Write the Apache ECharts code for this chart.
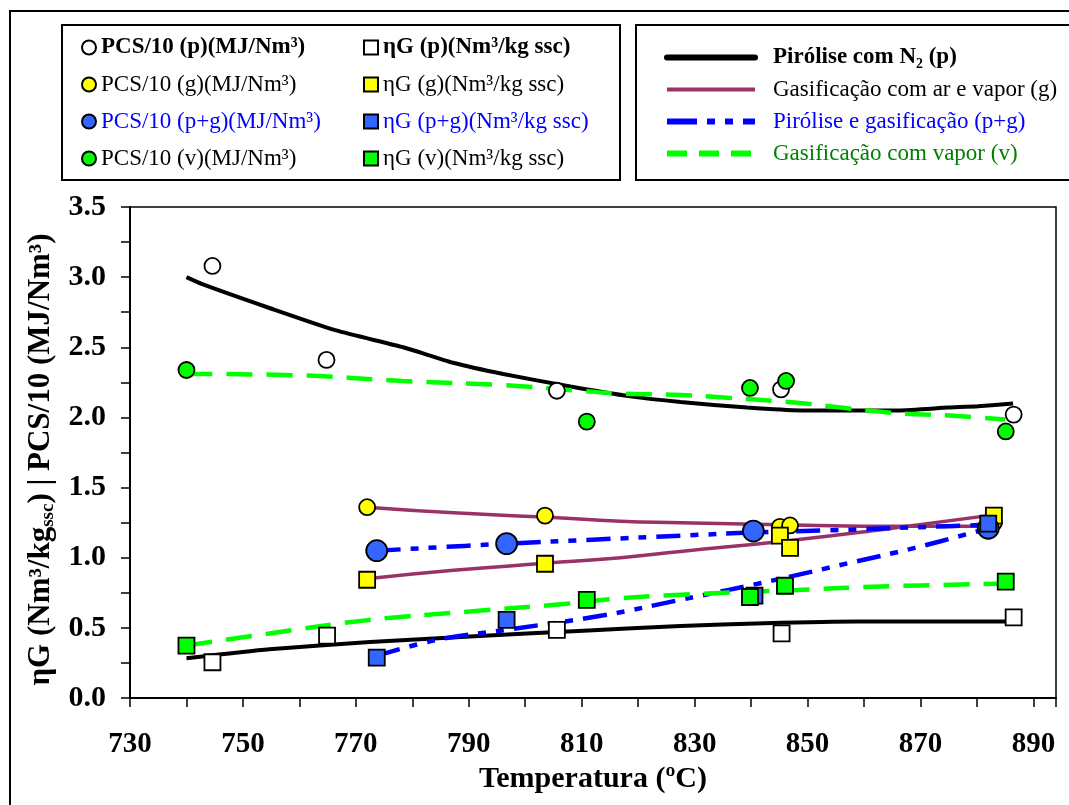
<!DOCTYPE html>
<html>
<head>
<meta charset="utf-8">
<script src="https://cdn.jsdelivr.net/npm/echarts@6/dist/echarts.min.js"></script>
<style>
html,body{margin:0;padding:0;background:#fff;}
#chart{width:1069px;height:805px;}
</style>
</head>
<body>
<div id="chart"></div>
<script>
// ---------- data ----------
const xTicks = [730, 750, 770, 790, 810, 830, 850, 870, 890];
const yTicks = [0.0, 0.5, 1.0, 1.5, 2.0, 2.5, 3.0, 3.5];

// markers
const pcsP_T = [744.6, 764.8, 805.6, 845.3, 886.5];
const pcsP_V = [3.08, 2.41, 2.19, 2.20, 2.02];
const etaP_T = [744.6, 764.9, 805.6, 845.4, 886.5];
const etaP_V = [0.255, 0.445, 0.486, 0.46, 0.575];
const pcsG_T = [772.0, 803.5, 845.1, 846.9, 883.0];
const pcsG_V = [1.36, 1.30, 1.22, 1.23, 1.25];
const etaG_T = [772.0, 803.5, 845.1, 846.9, 883.0];
const etaG_V = [0.843, 0.957, 1.157, 1.07, 1.30];
const pcsPG_T = [773.7, 796.7, 840.4, 882.0];
const pcsPG_V = [1.05, 1.10, 1.19, 1.21];
const etaPG_T = [773.7, 796.7, 840.6, 882.0];
const etaPG_V = [0.288, 0.557, 0.73, 1.243];
const pcsV_T = [740.0, 810.9, 839.8, 846.2, 885.1];
const pcsV_V = [2.338, 1.97, 2.21, 2.26, 1.90];
const etaV_T = [740.0, 810.9, 839.8, 846.0, 885.1];
const etaV_V = [0.374, 0.70, 0.72, 0.80, 0.83];

// fitted curves
const curvePcsP_T = [740, 742.8, 754.7, 766.5, 778.4, 787.2, 796.1, 808, 818.6, 827.5, 839.3, 848.8, 866, 874.9, 880.2, 886.4];
const curvePcsP_V = [3.0, 2.95, 2.78, 2.62, 2.50, 2.39, 2.31, 2.22, 2.15, 2.11, 2.07, 2.05, 2.05, 2.07, 2.08, 2.10];
const curveEtaP_T = [740, 754.7, 772.5, 790.2, 810.3, 827.5, 842.3, 858.9, 886.7];
const curveEtaP_V = [0.283, 0.347, 0.40, 0.438, 0.48, 0.514, 0.533, 0.545, 0.545];
const curvePcsG_T = [772, 787.3, 803.5, 816.9, 827.5, 845.3, 863, 882];
const curvePcsG_V = [1.36, 1.32, 1.29, 1.26, 1.25, 1.235, 1.225, 1.225];
const curveEtaG_T = [772, 787.3, 803.5, 816.9, 827.5, 845.3, 863, 882];
const curveEtaG_V = [0.85, 0.91, 0.96, 1.0, 1.045, 1.116, 1.2, 1.30];
const curvePcsPG_T = [773.7, 796.7, 812.7, 827.5, 840.4, 853.5, 874.9, 882];
const curvePcsPG_V = [1.05, 1.10, 1.13, 1.157, 1.18, 1.195, 1.225, 1.235];
const curveEtaPG_T = [773.7, 784.3, 796.7, 813.9, 827.5, 844.1, 857.1, 869, 882];
const curveEtaPG_V = [0.30, 0.414, 0.486, 0.59, 0.70, 0.84, 0.96, 1.07, 1.21];
const curvePcsV_T = [740, 760, 778.3, 796, 809.8, 816.9, 827.5, 835.8, 848.2, 855.9, 866, 876.6, 885];
const curvePcsV_V = [2.31, 2.30, 2.26, 2.23, 2.19, 2.17, 2.16, 2.14, 2.105, 2.07, 2.03, 2.01, 1.985];
const curveEtaV_T = [740, 754.7, 772.5, 790.2, 806.8, 815.1, 827.5, 848.2, 863, 884];
const curveEtaV_V = [0.374, 0.46, 0.557, 0.617, 0.67, 0.705, 0.736, 0.77, 0.795, 0.814];

// names
const N_PCS_P = 'PCS/10 (p)(MJ/Nm³)';
const N_ETA_P = 'ηG (p)(Nm³/kg ssc)';
const N_PCS_G = 'PCS/10 (g)(MJ/Nm³)';
const N_ETA_G = 'ηG (g)(Nm³/kg ssc)';
const N_PCS_PG = 'PCS/10 (p+g)(MJ/Nm³)';
const N_ETA_PG = 'ηG (p+g)(Nm³/kg ssc)';
const N_PCS_V = 'PCS/10 (v)(MJ/Nm³)';
const N_ETA_V = 'ηG (v)(Nm³/kg ssc)';
const L_P = 'Pirólise com N₂ (p)';
const L_G = 'Gasificação com ar e vapor (g)';
const L_PG = 'Pirólise e gasificação (p+g)';
const L_V = 'Gasificação com vapor (v)';

// ---------- chart ----------
const FONT = '"Liberation Serif","Times New Roman",serif';
const pair = (xs, ys) => xs.map((x, i) => [x, ys[i]]);

function scatter(name, xs, ys, symbol, size, fill) {
  return {
    name, type: 'scatter', z: 5, symbol, symbolSize: size,
    data: pair(xs, ys),
    itemStyle: { color: fill, borderColor: '#000', borderWidth: 1.8, opacity: 1 }
  };
}
function curve(name, xs, ys, color, width, type, smooth) {
  return {
    name, type: 'line', z: 3, symbol: 'none', showSymbol: false, smooth: smooth,
    data: pair(xs, ys),
    lineStyle: { color, width, type, cap: 'butt' },
    itemStyle: { color }
  };
}

const dashPG = [24, 10, 8, 10, 8, 10];
const dashPGLegend = [30, 10, 8, 10, 8, 10];
const dashV = [26, 14];
const dashVLegend = [20, 12];

const chart = echarts.init(document.getElementById('chart'), null, { renderer: 'canvas' });

const legendText = { fontFamily: FONT, fontSize: 23, color: '#000', lineHeight: 22 };
const hiddenSym = { opacity: 0 };

chart.setOption({
  animation: false,
  backgroundColor: '#fff',
  grid: { left: 130, right: 13, top: 207, bottom: 107, show: true, borderColor: '#000', borderWidth: 1.5, backgroundColor: 'transparent' },
  graphic: [
    { type: 'rect', silent: true, z: -1, shape: { x: 10, y: 11, width: 1100, height: 900 }, style: { fill: 'none', stroke: '#000', lineWidth: 2 } },
    { type: 'rect', silent: true, z: -1, shape: { x: 62, y: 25, width: 558, height: 155 }, style: { fill: 'none', stroke: '#000', lineWidth: 2 } },
    { type: 'rect', silent: true, z: -1, shape: { x: 636, y: 25, width: 500, height: 155 }, style: { fill: 'none', stroke: '#000', lineWidth: 2 } }
  ],
  legend: [
    {
      left: 76, top: 31, padding: 5, orient: 'vertical', itemGap: 14, itemWidth: 14, itemHeight: 14,
      selectedMode: false, textStyle: legendText,
      data: [
        { name: N_PCS_P, textStyle: { fontWeight: 'bold' } },
        { name: N_PCS_G },
        { name: N_PCS_PG, textStyle: { color: '#0000ff' } },
        { name: N_PCS_V }
      ]
    },
    {
      left: 358, top: 31, padding: 5, orient: 'vertical', itemGap: 14, itemWidth: 14, itemHeight: 14,
      selectedMode: false, textStyle: legendText,
      data: [
        { name: N_ETA_P, textStyle: { fontWeight: 'bold' } },
        { name: N_ETA_G },
        { name: N_ETA_PG, textStyle: { color: '#0000ff' } },
        { name: N_ETA_V }
      ]
    },
    {
      left: 659, top: 41, padding: 5, orient: 'vertical', itemGap: 9, itemWidth: 88, itemHeight: 14,
      selectedMode: false, textStyle: Object.assign({}, legendText, { padding: [0, 0, 0, 13] }),
      data: [
        { name: L_P, textStyle: { fontWeight: 'bold' }, itemStyle: hiddenSym, lineStyle: { width: 6, color: '#000', type: 'solid', cap: 'round' } },
        { name: L_G, itemStyle: hiddenSym, lineStyle: { width: 4, color: '#993366', type: 'solid' } },
        { name: L_PG, textStyle: { color: '#0000ff' }, itemStyle: hiddenSym, lineStyle: { width: 6, color: '#0000ff', type: dashPGLegend } },
        { name: L_V, textStyle: { color: '#008000' }, itemStyle: hiddenSym, lineStyle: { width: 6, color: '#00ff00', type: dashVLegend } }
      ]
    }
  ],
  xAxis: {
    type: 'value', min: 730, max: 894, interval: 20,
    name: 'Temperatura (ºC)', nameLocation: 'middle', nameGap: 64,
    nameTextStyle: { fontFamily: FONT, fontWeight: 'bold', fontSize: 30, color: '#000' },
    axisLine: { show: true, onZero: false, lineStyle: { color: '#000', width: 2 } },
    axisTick: { show: true, inside: false, length: 9, lineStyle: { color: '#000', width: 1.5 } },
    minorTick: { show: true, splitNumber: 2, length: 9, lineStyle: { color: '#000', width: 1.5 } },
    splitLine: { show: false },
    axisLabel: {
      fontFamily: FONT, fontWeight: 'bold', fontSize: 29, color: '#000', margin: 32,
      showMaxLabel: false,
      formatter: v => (xTicks.indexOf(v) >= 0 ? String(v) : '')
    }
  },
  yAxis: {
    type: 'value', min: 0, max: 3.5, interval: 0.5,
    name: 'ηG (Nm³/kg{sub|ssc}) | PCS/10 (MJ/Nm³)', nameLocation: 'middle', nameGap: 70,
    nameTextStyle: {
      fontFamily: FONT, fontWeight: 'bold', fontSize: 31, color: '#000',
      padding: [0, 14, 0, 0],
      rich: { sub: { fontFamily: FONT, fontWeight: 'bold', fontSize: 19, color: '#000', verticalAlign: 'bottom', padding: [14, 0, 0, 0] } }
    },
    axisLine: { show: true, onZero: false, lineStyle: { color: '#000', width: 2 } },
    axisTick: { show: true, inside: false, length: 9, lineStyle: { color: '#000', width: 1.5 } },
    minorTick: { show: true, splitNumber: 2, length: 9, lineStyle: { color: '#000', width: 1.5 } },
    splitLine: { show: false },
    axisLabel: {
      fontFamily: FONT, fontWeight: 'bold', fontSize: 30, color: '#000', margin: 24,
      formatter: v => {
        const t = yTicks.find(k => Math.abs(k - v) < 1e-9);
        return t === undefined ? '' : t.toFixed(1);
      }
    }
  },
  series: [
    curve(L_P, curvePcsP_T, curvePcsP_V, '#000000', 4, 'solid', 0.2),
    curve(L_P, curveEtaP_T, curveEtaP_V, '#000000', 4, 'solid', 0.2),
    curve(L_G, curvePcsG_T, curvePcsG_V, '#993366', 3.5, 'solid', 0.5),
    curve(L_G, curveEtaG_T, curveEtaG_V, '#993366', 3.5, 'solid', 0.5),
    curve(L_PG, curvePcsPG_T, curvePcsPG_V, '#0000ff', 4.5, dashPG, 0.4),
    curve(L_PG, curveEtaPG_T, curveEtaPG_V, '#0000ff', 4.5, dashPG, 0.4),
    curve(L_V, curvePcsV_T, curvePcsV_V, '#00ff00', 4.5, dashV, 0.4),
    curve(L_V, curveEtaV_T, curveEtaV_V, '#00ff00', 4.5, dashV, 0.4),

    scatter(N_PCS_P, pcsP_T, pcsP_V, 'circle', 16, '#ffffff'),
    scatter(N_ETA_P, etaP_T, etaP_V, 'rect', 16, '#ffffff'),
    scatter(N_PCS_G, pcsG_T, pcsG_V, 'circle', 16, '#ffff00'),
    scatter(N_ETA_G, etaG_T, etaG_V, 'rect', 16, '#ffff00'),
    scatter(N_PCS_PG, pcsPG_T, pcsPG_V, 'circle', 21, '#3366ff'),
    scatter(N_ETA_PG, etaPG_T, etaPG_V, 'rect', 16, '#3366ff'),
    scatter(N_PCS_V, pcsV_T, pcsV_V, 'circle', 16, '#00ff00'),
    scatter(N_ETA_V, etaV_T, etaV_V, 'rect', 16, '#00ff00')
  ]
});
</script>
</body>
</html>
